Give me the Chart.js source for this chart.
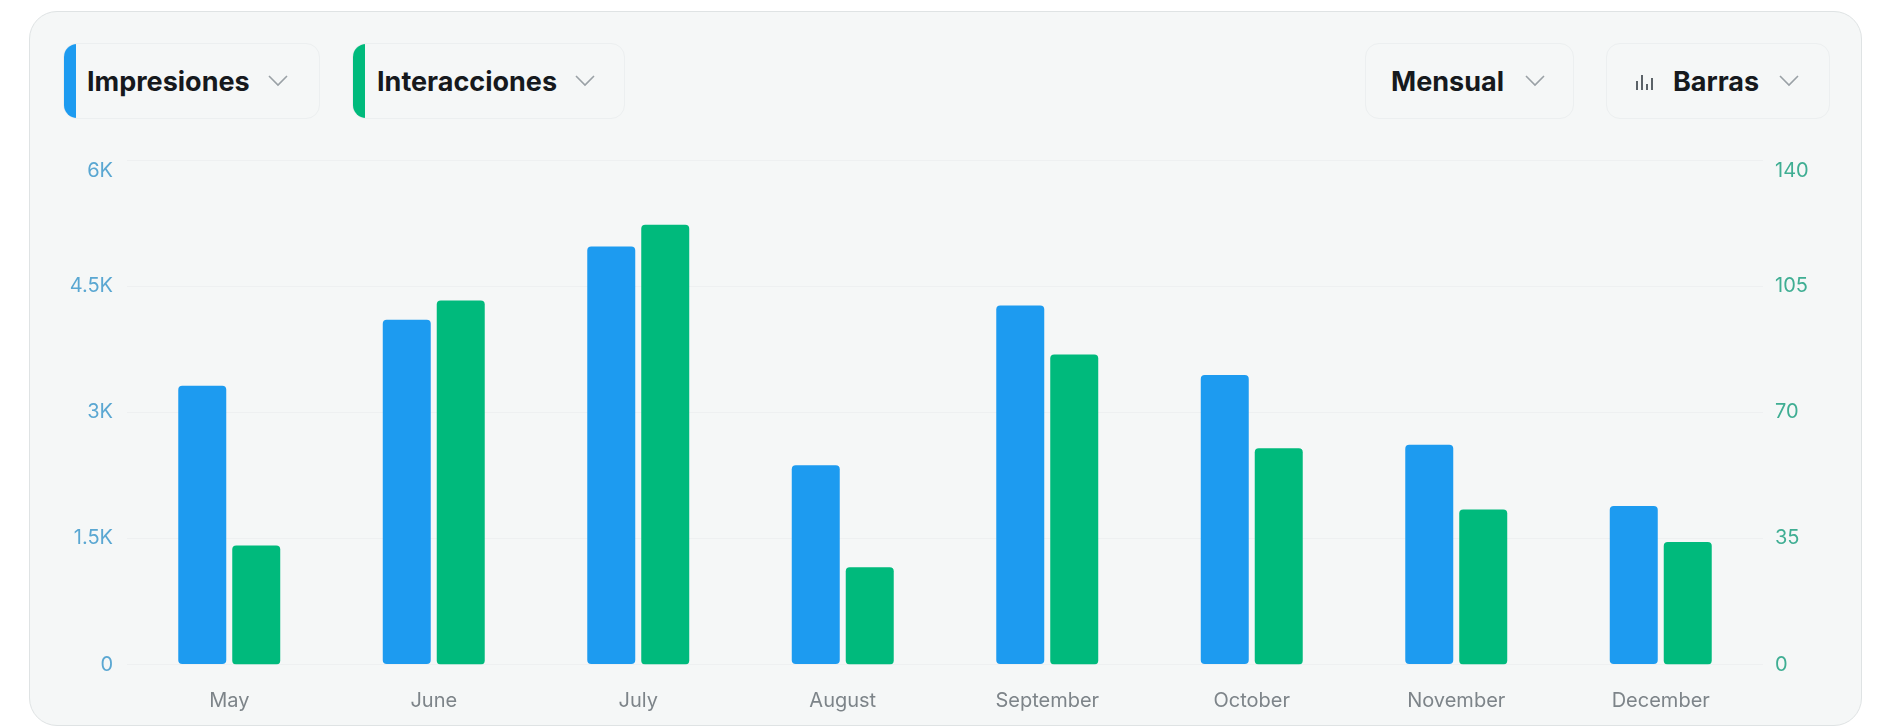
<!DOCTYPE html>
<html>
<head>
<meta charset="utf-8">
<title>Impresiones e interacciones</title>
<script src="https://cdn.jsdelivr.net/npm/chart.js@4"></script>
<style>
html, body { margin: 0; padding: 0; background: #fff; width: 1878px; height: 727px; overflow: hidden; }
body { font-family: Inter, "Liberation Sans", sans-serif; }
#card { position: absolute; left: 29px; top: 11px; width: 1833px; height: 715px; box-sizing: border-box; background: #f5f7f7; border: 1px solid #dfe3e4; border-radius: 28px; }
.chip { position: absolute; top: 43px; height: 76px; box-sizing: border-box; border: 1px solid #eceff0; border-radius: 14px; display: flex; align-items: center; font-size: 27px; font-weight: 700; color: #16191d; overflow: hidden; white-space: nowrap; }
.chip .mark { position: absolute; left: 0; top: 0; bottom: 0; width: 12px; }
.chip svg { display: block; flex: none; }
#chart { position: absolute; left: 30px; top: 124px; }
</style>
</head>
<body>
<div id="card"></div>
<div class="chip" style="left:63px;width:257px;padding-left:23px"><span class="mark" style="background:#1d9bf0"></span>Impresiones<svg style="margin-left:17px" width="22" height="12" viewBox="0 0 22 12" fill="none" stroke="#9aa1a6" stroke-width="1.6"><path d="M2 1l9 9 9-9"/></svg></div>
<div class="chip" style="left:352px;width:273px;padding-left:24px"><span class="mark" style="background:#00ba7c"></span>Interacciones<svg style="margin-left:17px" width="22" height="12" viewBox="0 0 22 12" fill="none" stroke="#9aa1a6" stroke-width="1.6"><path d="M2 1l9 9 9-9"/></svg></div>
<div class="chip" style="left:1365px;width:209px;padding-left:25px">Mensual<svg style="margin-left:20px" width="22" height="12" viewBox="0 0 22 12" fill="none" stroke="#9aa1a6" stroke-width="1.6"><path d="M2 1l9 9 9-9"/></svg></div>
<div class="chip" style="left:1606px;width:224px;padding-left:28px"><svg style="margin-right:18px" width="20" height="18" viewBox="0 0 20 18" fill="#5b6268"><rect x="1" y="9" width="2" height="9"/><rect x="6" y="3" width="2" height="15"/><rect x="11" y="12" width="2" height="6"/><rect x="16" y="6" width="2" height="12"/></svg>Barras<svg style="margin-left:19px" width="22" height="12" viewBox="0 0 22 12" fill="none" stroke="#9aa1a6" stroke-width="1.6"><path d="M2 1l9 9 9-9"/></svg></div>
<canvas id="chart" width="1810" height="596"></canvas>

<script>
const months = ['May', 'June', 'July', 'August', 'September', 'October', 'November', 'December'];
const impresiones = [3314, 4100, 4971, 2371, 4271, 3443, 2614, 1886];
const interacciones = [33, 101, 122, 27, 86, 60, 43, 34];
const leftTicks = ['0', '1.5K', '3K', '4.5K', '6K'];
const rightTicks = ['0', '35', '70', '105', '140'];

// top label sits under its gridline: an empty first line pushes it down
function tickLabel(labels, index) {
    return index === labels.length - 1 ? ['', labels[index]] : labels[index];
}

const ctx = document.getElementById('chart').getContext('2d');
new Chart(ctx, {
    type: 'bar',
    data: {
        labels: months,
        datasets: [
            { label: 'Impresiones', data: impresiones, yAxisID: 'y', backgroundColor: '#1d9bf0' },
            { label: 'Interacciones', data: interacciones, yAxisID: 'y1', backgroundColor: '#00ba7c' }
        ]
    },
    options: {
        responsive: false,
        animation: false,
        categoryPercentage: 0.528,
        barPercentage: 0.889,
        borderRadius: 4,
        borderSkipped: false,
        plugins: { legend: { display: false }, tooltip: { enabled: false } },
        scales: {
            x: {
                grid: { display: false },
                border: { display: false },
                ticks: { color: '#7d8489', font: { family: 'Inter', size: 20 }, padding: 16, maxRotation: 0 },
                afterFit: scale => { scale.height = 55.5; }
            },
            y: {
                position: 'left',
                min: 0,
                max: 6000,
                grid: { color: '#eef0f1', drawTicks: false },
                border: { display: false },
                ticks: {
                    stepSize: 1500,
                    color: '#5aa7d2',
                    font: { family: 'Inter', size: 20, lineHeight: 1.1 },
                    padding: 14,
                    callback: (value, index) => tickLabel(leftTicks, index)
                },
                afterFit: scale => { scale.width = 97; }
            },
            y1: {
                position: 'right',
                min: 0,
                max: 140,
                grid: { display: false },
                border: { display: false },
                ticks: {
                    stepSize: 35,
                    color: '#3fae93',
                    font: { family: 'Inter', size: 20, lineHeight: 1.1 },
                    padding: 4,
                    callback: (value, index) => tickLabel(rightTicks, index)
                },
                afterFit: scale => { scale.width = 77; }
            }
        }
    }
});
</script>
</body>
</html>
